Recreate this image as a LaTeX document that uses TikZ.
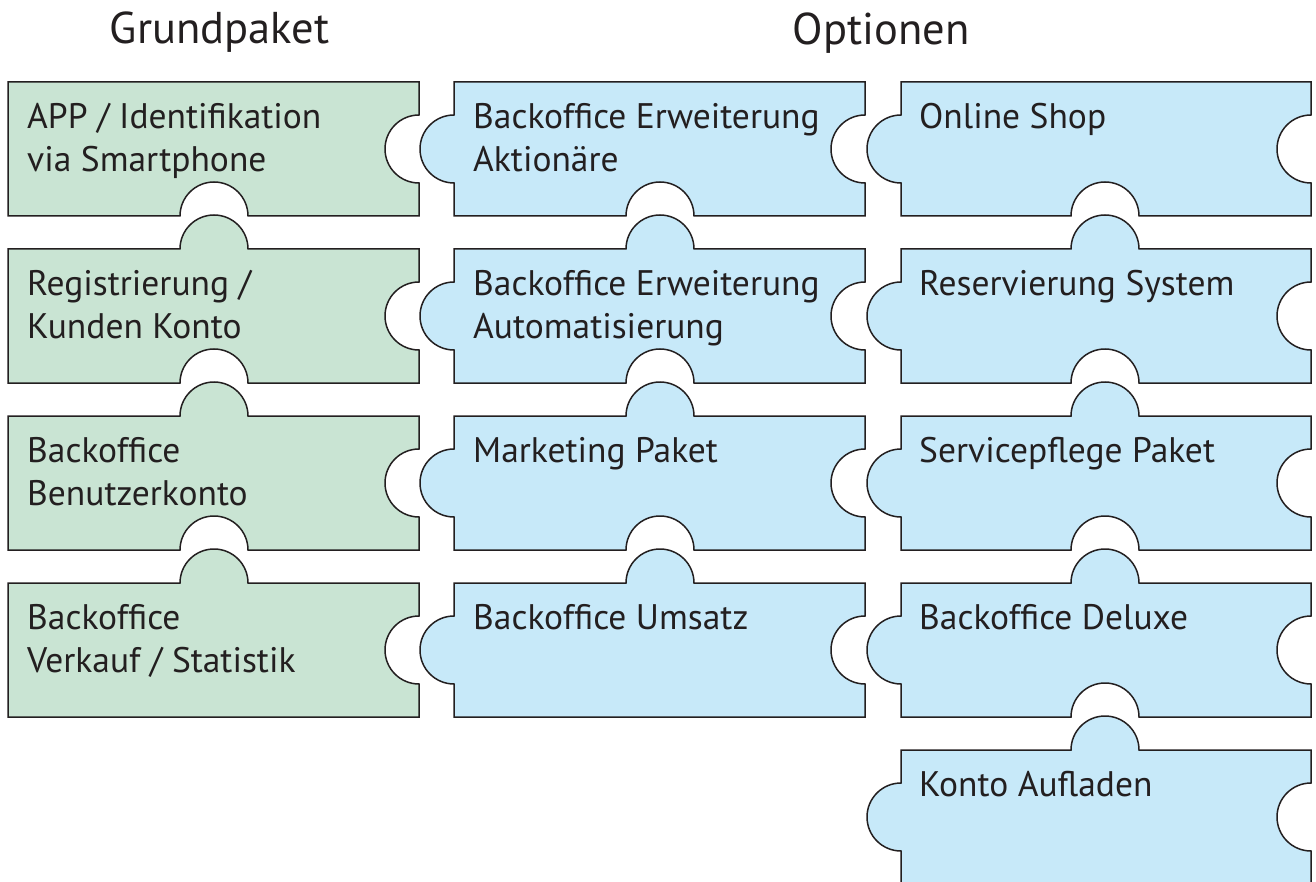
\documentclass[tikz,border=0pt]{standalone}
\usepackage{fontspec}
\setmainfont{PT Sans}
\definecolor{gfill}{RGB}{201,228,211}
\definecolor{bfill}{RGB}{199,233,249}
\definecolor{edgecol}{RGB}{35,31,32}
\definecolor{txtcol}{RGB}{35,31,32}
\tikzset{
  piece/.style={draw=edgecol,line width=1.5pt,line join=miter},
  lbl/.style={anchor=base west,inner sep=0pt,align=left,text=txtcol,
    font=\fontsize{35.5}{43.5}\selectfont},
  ttl/.style={anchor=base,inner sep=0pt,text=txtcol,font=\fontsize{44.5}{50}\selectfont}
}
% #1 x0, #2 x1, #3 top (px from top), #4 centre x of bottom notch / top tab,
% #5 top tab, #6 bottom notch, #7 left bump, #8 fill
\newcommand\puzzlepiece[8]{%
  \pgfmathsetmacro\pT{-#3}%
  \pgfmathsetmacro\pB{-#3-134}%
  \pgfmathsetmacro\pC{-#3-67}%
  \def\pr{34}%
  \ifnum#5=1 \def\ptop{-- (#4-\pr,\pT) arc[start angle=180,end angle=0,radius=\pr]}\else\def\ptop{}\fi
  \ifnum#6=1 \def\pbot{-- (#4+\pr,\pB) arc[start angle=0,end angle=180,radius=\pr]}\else\def\pbot{}\fi
  \ifnum#7=1 \def\pleft{-- (#1,\pC-\pr) arc[start angle=270,end angle=90,radius=\pr]}\else\def\pleft{}\fi
  \path[piece,fill=#8] (#1,\pT) \ptop -- (#2,\pT) -- (#2,\pC+\pr)
     arc[start angle=90,end angle=270,radius=\pr] -- (#2,\pB) \pbot -- (#1,\pB) \pleft -- cycle;
}
\begin{document}
\begin{tikzpicture}[x=1pt,y=1pt]
\useasboundingbox (0,0) rectangle (1316,-882);
% Grundpaket column
\puzzlepiece{8}{419}{82}{214}{0}{1}{0}{gfill}
\puzzlepiece{8}{419}{249}{214}{1}{1}{0}{gfill}
\puzzlepiece{8}{419}{416}{214}{1}{1}{0}{gfill}
\puzzlepiece{8}{419}{583}{214}{1}{0}{0}{gfill}
% Optionen column 1
\puzzlepiece{454}{865}{82}{660}{0}{1}{1}{bfill}
\puzzlepiece{454}{865}{249}{660}{1}{1}{1}{bfill}
\puzzlepiece{454}{865}{416}{660}{1}{1}{1}{bfill}
\puzzlepiece{454}{865}{583}{660}{1}{0}{1}{bfill}
% Optionen column 2
\puzzlepiece{901}{1311}{82}{1105}{0}{1}{1}{bfill}
\puzzlepiece{901}{1311}{249}{1105}{1}{1}{1}{bfill}
\puzzlepiece{901}{1311}{416}{1105}{1}{1}{1}{bfill}
\puzzlepiece{901}{1311}{583}{1105}{1}{1}{1}{bfill}
\puzzlepiece{901}{1311}{750}{1105}{1}{0}{1}{bfill}
% titles
\node[ttl] (tg) at (219.5,-44) {Grundpaket};
\node[ttl] (to) at (881,-45) {Optionen};
% labels (two-line labels are anchored at the baseline of their last line)
\node[lbl] (g1) at (27,-171.8) {APP / Identifikation\\via Smartphone};
\node[lbl] (g2) at (27,-338.8) {Registrierung /\\Kunden Konto};
\node[lbl] (g3) at (27,-505.8) {Backoffice\\Benutzerkonto};
\node[lbl] (g4) at (27,-672.8) {Backoffice\\Verkauf / Statistik};
\node[lbl] (a1) at (473,-171.8) {Backoffice Erweiterung\\Aktionäre};
\node[lbl] (a2) at (473,-338.8) {Backoffice Erweiterung\\Automatisierung};
\node[lbl] (a3) at (473,-462.3) {Marketing Paket};
\node[lbl] (a4) at (473,-629.3) {Backoffice Umsatz};
\node[lbl] (b1) at (919,-128.3) {Online Shop};
\node[lbl] (b2) at (919,-295.3) {Reservierung System};
\node[lbl] (b3) at (919,-462.3) {Servicepflege Paket};
\node[lbl] (b4) at (919,-629.3) {Backoffice Deluxe};
\node[lbl] (b5) at (919,-796.3) {Konto Aufladen};
\end{tikzpicture}
\end{document}
